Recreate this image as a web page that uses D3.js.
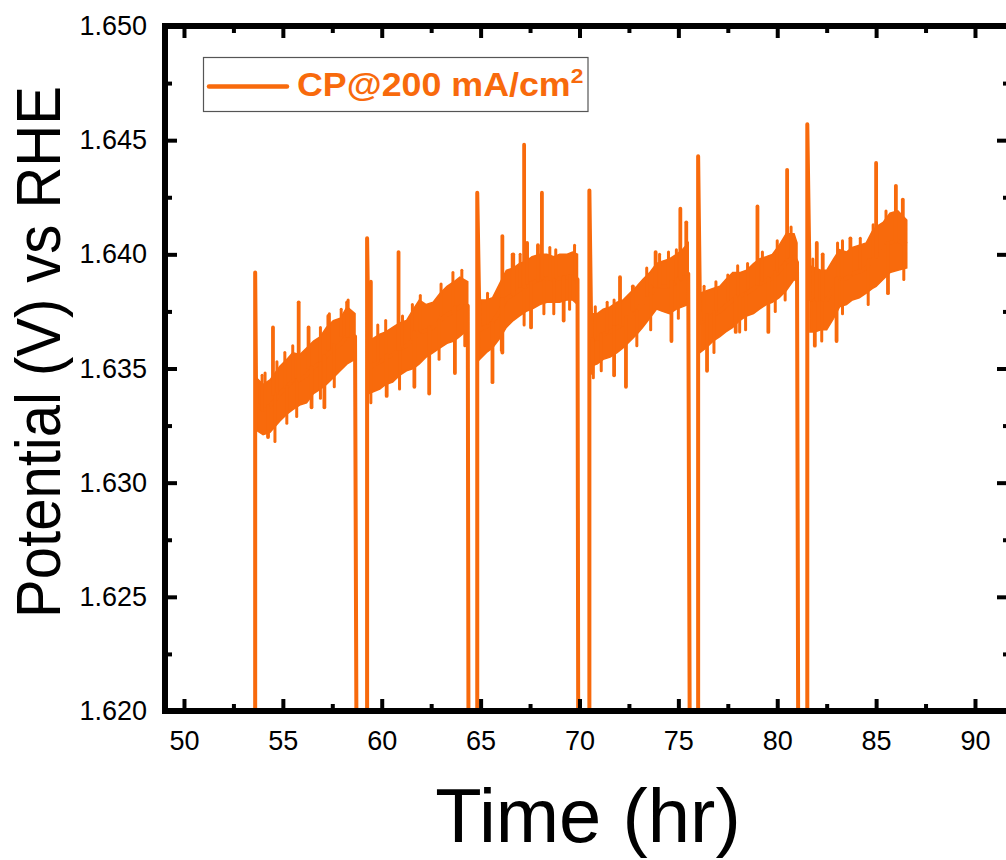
<!DOCTYPE html>
<html>
<head>
<meta charset="utf-8">
<script src="https://cdn.jsdelivr.net/npm/d3@7"></script>
<style>
  html, body { margin: 0; padding: 0; background: #fff; overflow: hidden; }
  svg { display: block; font-family: "Liberation Sans", Arial, sans-serif; }
</style>
</head>
<body>
<svg id="chart" width="1006" height="860"></svg>
<script>
// ---------------- data ----------------
const xMajorTicks = [50, 55, 60, 65, 70, 75, 80, 85, 90];
const xMinorTicks = [52.5, 57.5, 62.5, 67.5, 72.5, 77.5, 82.5, 87.5];
const yMajorTicks = [1.620, 1.625, 1.630, 1.635, 1.640, 1.645, 1.650];
const yMinorTicks = [1.6225, 1.6275, 1.6325, 1.6375, 1.6425, 1.6475];

const seriesName = "CP@200 mA/cm";
const seriesSup = "2";

// start / end of each measurement segment (hr) and the start-up peak (V)
const segStartT = [53.6, 59.26, 64.83, 70.5, 76.0, 81.52];
const segEndT   = [58.75, 64.4, 69.95, 75.6, 81.08, null];
const startPeakV = [1.6392, 1.6407, 1.6427, 1.6428, 1.6443, 1.6457];
const offLevelV = 1.612; // potential while interrupted (off-scale)

// noise band of each segment: time, upper and lower edge
const s1T  = [53.65, 54.0, 54.35, 54.85, 55.2, 55.5, 55.85, 56.2, 56.55, 56.9, 57.2, 57.55, 57.9, 58.25, 58.65];
const s1Hi = [1.6346, 1.6343, 1.6345, 1.6351, 1.6354, 1.6357, 1.6356, 1.6359, 1.6362, 1.6364, 1.6368, 1.6371, 1.6372, 1.6377, 1.6374];
const s1Lo = [1.6323, 1.6321, 1.6322, 1.6327, 1.6330, 1.6332, 1.6334, 1.6335, 1.6339, 1.6341, 1.6343, 1.6346, 1.6349, 1.6352, 1.6354];

const s2T  = [59.35, 59.9, 60.2, 60.55, 60.9, 61.25, 61.6, 61.9, 62.25, 62.6, 62.95, 63.3, 63.65, 63.95, 64.35];
const s2Hi = [1.6362, 1.6365, 1.6366, 1.6368, 1.6370, 1.6371, 1.6376, 1.6380, 1.6378, 1.6379, 1.6383, 1.6386, 1.6388, 1.6390, 1.6388];
const s2Lo = [1.6339, 1.6341, 1.6343, 1.6344, 1.6347, 1.6349, 1.6350, 1.6352, 1.6355, 1.6357, 1.6359, 1.6361, 1.6362, 1.6364, 1.6367];

const s3T  = [64.95, 65.3, 65.6, 65.95, 66.3, 66.65, 66.97, 67.3, 67.6, 68.0, 68.35, 68.7, 69.0, 69.35, 69.65, 69.9];
const s3Hi = [1.6380, 1.6380, 1.6381, 1.6387, 1.6393, 1.6394, 1.6396, 1.6397, 1.6399, 1.6400, 1.6400, 1.6399, 1.6400, 1.6400, 1.6401, 1.6400];
const s3Lo = [1.6354, 1.6357, 1.6359, 1.6363, 1.6368, 1.6371, 1.6373, 1.6375, 1.6376, 1.6378, 1.6379, 1.6379, 1.6379, 1.6380, 1.6380, 1.6378];

const s4T  = [70.6, 70.9, 71.2, 71.55, 71.9, 72.2, 72.55, 72.9, 73.2, 73.55, 73.9, 74.2, 74.55, 74.9, 75.2, 75.5];
const s4Hi = [1.6374, 1.6374, 1.6376, 1.6377, 1.6379, 1.6380, 1.6383, 1.6386, 1.6389, 1.6392, 1.6396, 1.6397, 1.6398, 1.6400, 1.6402, 1.6405];
const s4Lo = [1.6351, 1.6352, 1.6354, 1.6355, 1.6357, 1.6359, 1.6362, 1.6365, 1.6368, 1.6372, 1.6376, 1.6375, 1.6374, 1.6376, 1.6377, 1.6378];

const s5T  = [76.1, 76.4, 76.75, 77.1, 77.4, 77.75, 78.1, 78.45, 78.8, 79.1, 79.45, 79.75, 80.1, 80.45, 80.85, 81.0];
const s5Hi = [1.6383, 1.6384, 1.6385, 1.6386, 1.6389, 1.6392, 1.6392, 1.6393, 1.6396, 1.6398, 1.6399, 1.6400, 1.6404, 1.6409, 1.6409, 1.6405];
const s5Lo = [1.6357, 1.6359, 1.6362, 1.6364, 1.6366, 1.6368, 1.6371, 1.6373, 1.6374, 1.6376, 1.6378, 1.6379, 1.6381, 1.6384, 1.6389, 1.6388];

const s6T  = [81.65, 81.9, 82.2, 82.5, 82.85, 83.15, 83.5, 83.8, 84.15, 84.5, 84.8, 85.0, 85.35, 85.7, 86.1, 86.55];
const s6Hi = [1.6395, 1.6394, 1.6393, 1.6393, 1.6398, 1.6402, 1.6401, 1.6403, 1.6404, 1.6405, 1.6410, 1.6412, 1.6414, 1.6418, 1.6419, 1.6415];
const s6Lo = [1.6366, 1.6366, 1.6367, 1.6367, 1.6372, 1.6377, 1.6378, 1.6380, 1.6381, 1.6383, 1.6385, 1.6386, 1.6389, 1.6392, 1.6393, 1.6394];

// isolated large spikes (time, potential)
const spikeT = [54.25, 54.5, 55.8, 56.3, 56.45, 57.1, 57.3, 58.25,
                59.45, 60.25, 60.85, 61.65, 62.4, 63.7,
                65.6, 66.1, 66.1, 66.65, 67.2, 67.35, 67.55, 67.9, 68.1, 69.2,
                70.65, 71.75, 72.05, 72.35, 72.7, 73.85, 74.65, 75.1, 75.4,
                76.45, 77.9, 79.0, 79.55, 80.5,
                81.9, 82.0, 82.3, 83.0, 83.7, 85.0, 85.6, 86.0, 86.35];
const spikeV = [1.6320, 1.6368, 1.6379, 1.6368, 1.6333, 1.6333, 1.6373, 1.6379,
                1.6388, 1.6338, 1.6401, 1.6342, 1.6339, 1.6348,
                1.6344, 1.6408, 1.6357, 1.6400, 1.6448, 1.6405, 1.6368, 1.6404, 1.6427, 1.6371,
                1.6348, 1.6347, 1.6390, 1.6342, 1.6386, 1.6401, 1.6362, 1.6420, 1.6414,
                1.6349, 1.6366, 1.6421, 1.6366, 1.6437,
                1.6360, 1.6405, 1.6400, 1.6362, 1.6407, 1.6440, 1.6383, 1.6430, 1.6424];

// small excursions along the band edges (time, potential)
const tickT = [53.95, 54.1, 54.7, 55.1, 55.5, 56.9, 57.35, 57.95, 58.3,
               54.6, 55.2, 55.7, 56.9, 57.6,
               59.8, 60.2, 61.05, 61.55, 61.95, 63.0, 63.6, 64.05,
               59.45, 60.9, 62.9, 64.2,
               65.35, 66.6, 67.0, 68.5, 68.8, 69.75,
               66.05, 67.2, 68.2, 68.7, 69.5,
               70.8, 71.4, 71.75, 73.4, 74.05, 74.5, 74.9,
               70.7, 71.1, 72.9, 73.6, 75.0,
               76.3, 76.9, 77.5, 78.0, 78.5, 79.25, 80.0, 80.7,
               76.8, 78.1, 78.4, 79.9, 80.4,
               81.8, 83.05, 83.3, 84.2, 84.85, 85.5,
               82.25, 83.3, 84.6, 86.4];
const tickV = [1.6347, 1.6348, 1.6353, 1.6357, 1.6360, 1.6368, 1.6374, 1.6376, 1.6380,
               1.6318, 1.6326, 1.6329, 1.6337, 1.6342,
               1.6369, 1.6371, 1.6373, 1.6378, 1.6382, 1.6387, 1.6392, 1.6393,
               1.6335, 1.6341, 1.6354, 1.6360,
               1.6383, 1.6400, 1.6400, 1.6403, 1.6402, 1.6404,
               1.6358, 1.6369, 1.6374, 1.6374, 1.6376,
               1.6377, 1.6379, 1.6380, 1.6394, 1.6400, 1.6401, 1.6402,
               1.6346, 1.6349, 1.6360, 1.6367, 1.6372,
               1.6386, 1.6388, 1.6391, 1.6395, 1.6396, 1.6401, 1.6406, 1.6412,
               1.6357, 1.6366, 1.6367, 1.6375, 1.6380,
               1.6398, 1.6405, 1.6406, 1.6407, 1.6413, 1.6419,
               1.6362, 1.6374, 1.6378, 1.6389];

// ---------------- layout ----------------
const W = 1006, H = 860;
const plot = { left: 165, right: 1009, top: 26, bottom: 711 };
const color = "#F86A0C";
const segBands = [
  [s1T, s1Hi, s1Lo], [s2T, s2Hi, s2Lo], [s3T, s3Hi, s3Lo],
  [s4T, s4Hi, s4Lo], [s5T, s5Hi, s5Lo], [s6T, s6Hi, s6Lo]
];

const svg = d3.select("#chart");
const x = d3.scaleLinear().domain([49.04, 91.72]).range([plot.left, plot.right]);
const y = d3.scaleLinear().domain([1.620, 1.650]).range([plot.bottom, plot.top]);

svg.append("defs").append("clipPath").attr("id", "clip")
  .append("rect")
  .attr("x", plot.left).attr("y", plot.top)
  .attr("width", plot.right - plot.left).attr("height", plot.bottom - plot.top);

const dataG = svg.append("g").attr("clip-path", "url(#clip)");

const area = d3.area().x(d => x(d[0])).y0(d => y(d[2])).y1(d => y(d[1]));
const line = d3.line().x(d => x(d[0])).y(d => y(d[1]));

segBands.forEach(([T, Hi, Lo], i) => {
  const rows = T.map((t, k) => [t, Hi[k], Lo[k]]);
  dataG.append("path").datum(rows)
    .attr("d", area)
    .attr("fill", color).attr("stroke", color)
    .attr("stroke-width", 1.5).attr("stroke-linejoin", "miter");
  // main trace: rise from off-level, start peak, band middle, drop at the end
  const pts = [[segStartT[i], offLevelV], [segStartT[i], startPeakV[i]]];
  rows.forEach(r => pts.push([r[0], (r[1] + r[2]) / 2]));
  if (segEndT[i] !== null) {
    pts.push([segEndT[i], offLevelV]);
  }
  dataG.append("path").datum(pts)
    .attr("d", line)
    .attr("fill", "none").attr("stroke", color)
    .attr("stroke-width", 4).attr("stroke-linejoin", "round");
});

// spikes: vertical excursions from the band
function bandMid(t) {
  for (const [T, Hi, Lo] of segBands) {
    if (t >= T[0] - 0.2 && t <= T[T.length - 1] + 0.2) {
      let k = d3.bisectLeft(T, t);
      k = Math.max(0, Math.min(T.length - 1, k));
      return (Hi[k] + Lo[k]) / 2;
    }
  }
  return 1.637;
}
function drawSpikes(ts, vs, width) {
  ts.forEach((t, k) => {
    dataG.append("path")
      .datum([[t, bandMid(t)], [t, vs[k]]])
      .attr("d", line)
      .attr("fill", "none").attr("stroke", color)
      .attr("stroke-width", width).attr("stroke-linecap", "round");
  });
}
drawSpikes(tickT, tickV, 3);
drawSpikes(spikeT, spikeV, 3.8);

// ---------------- axes ----------------
function styleAxis(g) {
  g.select(".domain").remove();
  g.selectAll(".tick line").attr("stroke", "#000").attr("stroke-width", 4);
  g.selectAll(".tick text").attr("fill", "#000").attr("font-size", 27)
    .attr("font-family", "'Liberation Sans', Arial, sans-serif");
}

// bottom
svg.append("g").attr("transform", `translate(0,${plot.bottom})`)
  .call(d3.axisBottom(x).tickValues(xMajorTicks).tickFormat(d3.format("d"))
    .tickSizeInner(-12).tickSizeOuter(0).tickPadding(20))
  .call(styleAxis);
svg.append("g").attr("transform", `translate(0,${plot.bottom})`)
  .call(d3.axisBottom(x).tickValues(xMinorTicks).tickFormat("")
    .tickSizeInner(-7).tickSizeOuter(0))
  .call(styleAxis);
// top (mirror, no labels)
svg.append("g").attr("transform", `translate(0,${plot.top})`)
  .call(d3.axisTop(x).tickValues(xMajorTicks).tickFormat("")
    .tickSizeInner(-12).tickSizeOuter(0))
  .call(styleAxis);
svg.append("g").attr("transform", `translate(0,${plot.top})`)
  .call(d3.axisTop(x).tickValues(xMinorTicks).tickFormat("")
    .tickSizeInner(-7).tickSizeOuter(0))
  .call(styleAxis);
// left
svg.append("g").attr("transform", `translate(${plot.left},0)`)
  .call(d3.axisLeft(y).tickValues(yMajorTicks).tickFormat(d3.format(".3f"))
    .tickSizeInner(-12).tickSizeOuter(0).tickPadding(18))
  .call(styleAxis);
svg.append("g").attr("transform", `translate(${plot.left},0)`)
  .call(d3.axisLeft(y).tickValues(yMinorTicks).tickFormat("")
    .tickSizeInner(-7).tickSizeOuter(0))
  .call(styleAxis);
// right (mirror, no labels)
svg.append("g").attr("transform", `translate(${plot.right},0)`)
  .call(d3.axisRight(y).tickValues(yMajorTicks).tickFormat("")
    .tickSizeInner(-12).tickSizeOuter(0))
  .call(styleAxis);
svg.append("g").attr("transform", `translate(${plot.right},0)`)
  .call(d3.axisRight(y).tickValues(yMinorTicks).tickFormat("")
    .tickSizeInner(-6).tickSizeOuter(0))
  .call(styleAxis);

// frame
svg.append("rect")
  .attr("x", plot.left).attr("y", plot.top)
  .attr("width", plot.right - plot.left).attr("height", plot.bottom - plot.top)
  .attr("fill", "none").attr("stroke", "#000").attr("stroke-width", 6);

// axis titles
svg.append("text")
  .attr("x", 588).attr("y", 842)
  .attr("text-anchor", "middle")
  .attr("font-size", 76).attr("fill", "#000")
  .text("Time (hr)");
svg.append("text")
  .attr("transform", "translate(60,352) rotate(-90) scale(1,1.08)")
  .attr("text-anchor", "middle")
  .attr("font-size", 58).attr("fill", "#000")
  .text("Potential (V) vs RHE");

// legend
const leg = svg.append("g");
leg.append("rect")
  .attr("x", 203.5).attr("y", 57.5).attr("width", 384.5).attr("height", 54)
  .attr("fill", "#fff").attr("stroke", "#555").attr("stroke-width", 1.2);
leg.append("line")
  .attr("x1", 209).attr("x2", 287).attr("y1", 86.5).attr("y2", 86.5)
  .attr("stroke", color).attr("stroke-width", 4.5).attr("stroke-linecap", "round");
const lt = leg.append("text")
  .attr("transform", "translate(297,96) scale(1.085,1)")
  .attr("font-size", 33).attr("font-weight", "bold").attr("fill", color);
lt.append("tspan").text(seriesName);
lt.append("tspan").attr("font-size", 21).attr("dy", -13).text(seriesSup);
</script>
</body>
</html>
